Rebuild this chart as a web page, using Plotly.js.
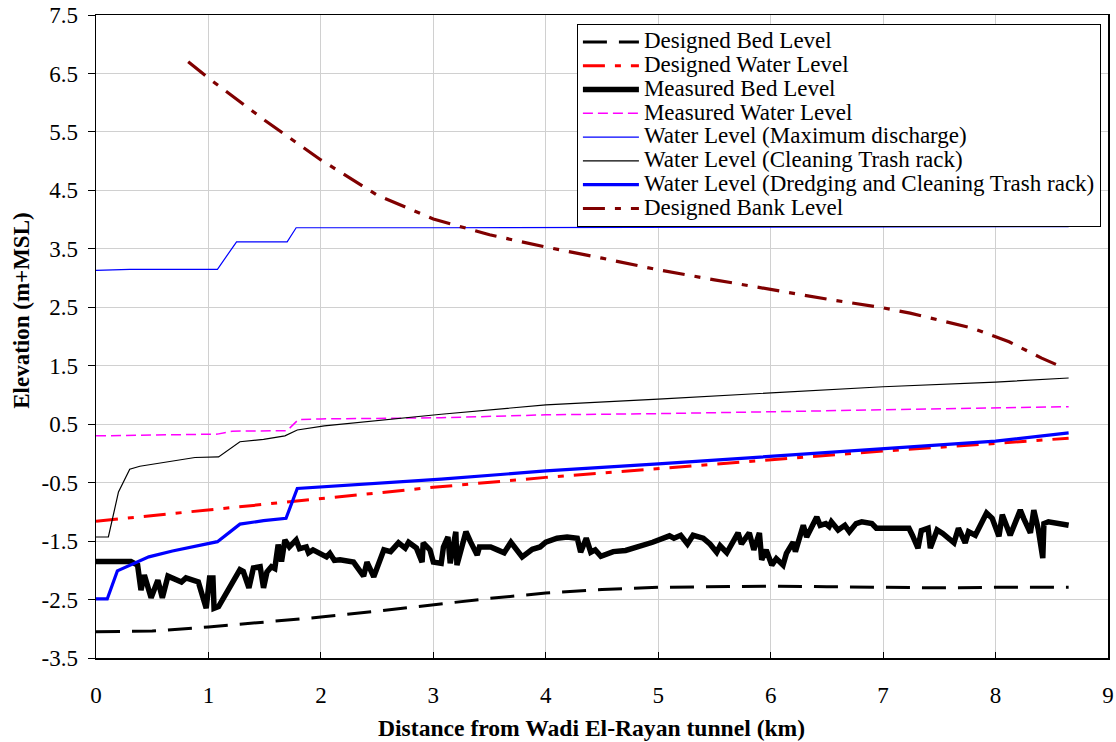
<!DOCTYPE html>
<html>
<head>
<meta charset="utf-8">
<script src="https://cdn.plot.ly/plotly-3.0.1.min.js"></script>
<style>html,body{margin:0;padding:0;background:#fff;}#chart{width:1116px;height:742px;}</style>
</head>
<body>
<div id="chart"></div>
<script>
// Designed Bed Level
const dbX = [0, 0.5, 1.0, 1.5, 2.0, 2.5, 3.0, 3.5, 4.0, 4.5, 5.0, 5.5, 6.0, 6.5, 7.0, 7.5, 8.0, 8.65];
const dbY = [-3.05, -3.04, -2.97, -2.89, -2.80, -2.70, -2.59, -2.48, -2.39, -2.33, -2.29, -2.28, -2.27, -2.28, -2.29, -2.30, -2.29, -2.29];
// Designed Water Level
const dwX = [0, 1, 2, 3, 4, 5, 6, 7, 8, 8.65];
const dwY = [-1.16, -0.97, -0.77, -0.58, -0.41, -0.26, -0.10, 0.04, 0.17, 0.26];
// Measured Bed Level
const mbX = [0, 0.31, 0.37, 0.40, 0.43, 0.49, 0.55, 0.59, 0.64, 0.71, 0.76, 0.80, 0.88, 0.91, 0.98, 1.01, 1.04, 1.05, 1.09, 1.16, 1.22, 1.28, 1.31, 1.36, 1.40, 1.46, 1.49, 1.52, 1.56, 1.59, 1.62, 1.65, 1.68, 1.72, 1.78, 1.81, 1.87, 1.89, 1.93, 2.05, 2.08, 2.12, 2.17,
  2.29, 2.38, 2.41, 2.47, 2.56, 2.62, 2.69, 2.75, 2.78, 2.85, 2.90, 2.91, 2.97, 3.00, 3.07, 3.09, 3.13, 3.15, 3.20, 3.21, 3.29, 3.33, 3.39, 3.41, 3.51, 3.57, 3.63, 3.69, 3.72, 3.79, 3.88, 3.95, 4.00, 4.10, 4.19, 4.28, 4.31, 4.36, 4.40,
  4.44, 4.49, 4.60, 4.71, 4.83, 4.95, 5.10, 5.14, 5.20, 5.26, 5.31, 5.40, 5.46, 5.52, 5.55, 5.61, 5.71, 5.74, 5.81, 5.85, 5.90, 5.92, 5.96, 6.01, 6.05, 6.11, 6.14, 6.20, 6.22, 6.26, 6.29, 6.32, 6.41, 6.44, 6.49, 6.52,
  6.54, 6.60, 6.66, 6.70, 6.76, 6.81, 6.90, 6.94, 7.01, 7.23, 7.26, 7.31, 7.34, 7.40, 7.42, 7.48, 7.53, 7.63, 7.67, 7.73, 7.76, 7.82, 7.92, 7.97, 8.03, 8.06, 8.13, 8.22, 8.25, 8.31, 8.34, 8.38, 8.42, 8.43, 8.47, 8.65];
const mbY = [-1.85, -1.85, -1.91, -2.34, -2.08, -2.47, -2.17, -2.47, -2.10, -2.17, -2.20, -2.13, -2.17, -2.20, -2.65, -2.13, -2.13, -2.65, -2.62, -2.37, -2.17, -1.99, -2.02, -2.30, -1.96, -1.94, -2.30, -2.03, -1.94, -1.97, -1.56, -1.85, -1.48, -1.60, -1.48, -1.63, -1.60, -1.70, -1.65, -1.77, -1.71, -1.83, -1.82,
  -1.86, -2.10, -1.86, -2.11, -1.65, -1.68, -1.53, -1.62, -1.52, -1.62, -1.86, -1.53, -1.65, -1.86, -1.88, -1.60, -1.43, -1.88, -1.34, -1.91, -1.34, -1.51, -1.74, -1.60, -1.60, -1.65, -1.70, -1.52, -1.60, -1.77, -1.64, -1.60, -1.52, -1.45, -1.43, -1.45, -1.69, -1.45, -1.69,
  -1.65, -1.76, -1.68, -1.66, -1.60, -1.52, -1.41, -1.45, -1.40, -1.55, -1.40, -1.45, -1.55, -1.69, -1.58, -1.70, -1.36, -1.55, -1.36, -1.65, -1.36, -1.82, -1.65, -1.91, -1.80, -1.91, -1.71, -1.52, -1.68, -1.43, -1.23, -1.43, -1.09, -1.23, -1.20, -1.25,
  -1.17, -1.31, -1.23, -1.34, -1.20, -1.17, -1.20, -1.28, -1.28, -1.28, -1.40, -1.62, -1.32, -1.28, -1.62, -1.31, -1.37, -1.53, -1.28, -1.53, -1.34, -1.40, -1.02, -1.11, -1.42, -1.05, -1.40, -0.97, -1.11, -1.36, -0.97, -1.30, -1.79, -1.20, -1.17, -1.23];
// Measured Water Level
const mwX = [0, 0.5, 1.08, 1.21, 1.70, 1.80, 2.0, 3.07, 4, 5, 6, 7, 8, 8.65];
const mwY = [0.30, 0.31, 0.33, 0.38, 0.39, 0.58, 0.59, 0.61, 0.66, 0.68, 0.71, 0.74, 0.78, 0.80];
// Water Level (Maximum discharge)
const wmX = [0, 0.30, 1.08, 1.25, 1.70, 1.78, 3, 5, 7, 8.65];
const wmY = [3.13, 3.15, 3.15, 3.62, 3.62, 3.86, 3.86, 3.87, 3.87, 3.88];
// Water Level (Cleaning Trash rack)
const wcX = [0, 0.11, 0.20, 0.30, 0.39, 0.88, 1.09, 1.28, 1.49, 1.68, 1.79, 2.03, 3.07, 4, 5, 6, 7, 8, 8.65];
const wcY = [-1.43, -1.43, -0.66, -0.27, -0.22, -0.07, -0.06, 0.20, 0.24, 0.30, 0.40, 0.47, 0.67, 0.83, 0.93, 1.03, 1.14, 1.22, 1.29];
// Water Level (Dredging and Cleaning Trash rack)
const wdX = [0, 0.10, 0.19, 0.33, 0.47, 0.68, 0.89, 1.08, 1.28, 1.49, 1.69, 1.79, 3.07, 4, 5, 6, 7, 8, 8.65];
const wdY = [-2.49, -2.49, -2.01, -1.89, -1.77, -1.67, -1.58, -1.51, -1.21, -1.15, -1.11, -0.60, -0.44, -0.30, -0.18, -0.05, 0.07, 0.21, 0.35];
// Designed Bank Level
const bkX = [0.82, 1.0, 1.5, 2.0, 2.5, 3.0, 3.5, 4.0, 4.5, 5.0, 5.5, 6.0, 6.5, 7.0, 7.24, 7.8, 8.12, 8.41, 8.6];
const bkY = [6.70, 6.42, 5.70, 5.02, 4.42, 4.01, 3.74, 3.53, 3.34, 3.14, 2.97, 2.80, 2.64, 2.49, 2.40, 2.14, 1.91, 1.63, 1.47];

// Tick labels
const yTickVals = [-3.5, -2.5, -1.5, -0.5, 0.5, 1.5, 2.5, 3.5, 4.5, 5.5, 6.5, 7.5];
const yTickText = ['-3.5', '-2.5', '-1.5', '-0.5', '0.5', '1.5', '2.5', '3.5', '4.5', '5.5', '6.5', '7.5'];
const xTickVals = [0, 1, 2, 3, 4, 5, 6, 7, 8, 9];
const xTickText = ['0', '1', '2', '3', '4', '5', '6', '7', '8', '9'];

const names = ['Designed Bed Level', 'Designed Water Level', 'Measured Bed Level', 'Measured Water Level',
  'Water Level (Maximum discharge)', 'Water Level (Cleaning Trash rack)',
  'Water Level (Dredging and Cleaning Trash rack)', 'Designed Bank Level'];
const xTitle = 'Distance from Wadi El-Rayan tunnel (km)';
const yTitle = 'Elevation (m+MSL)';
const lg = n => '<span style="font-size:23px">' + n + '</span>';

const traces = [
  {x: dbX, y: dbY, name: lg(names[0]), mode: 'lines', line: {color: '#000000', width: 3, dash: '24px,12px'}},
  {x: dwX, y: dwY, name: lg(names[1]), mode: 'lines', line: {color: '#ff0000', width: 3, dash: '22px,10px,6px,10px'}},
  {x: mbX, y: mbY, name: lg(names[2]), mode: 'lines', line: {color: '#000000', width: 5.5}},
  {x: mwX, y: mwY, name: lg(names[3]), mode: 'lines', line: {color: '#ff00ff', width: 1.5, dash: '10px,5px'}},
  {x: wmX, y: wmY, name: lg(names[4]), mode: 'lines', line: {color: '#0000ff', width: 1.2}},
  {x: wcX, y: wcY, name: lg(names[5]), mode: 'lines', line: {color: '#000000', width: 1.2}},
  {x: wdX, y: wdY, name: lg(names[6]), mode: 'lines', line: {color: '#0000ff', width: 3.2}},
  {x: bkX, y: bkY, name: lg(names[7]), mode: 'lines', line: {color: '#800000', width: 3.2, dash: '22px,10px,6px,10px'}}
];

const family = '"Liberation Serif", "Times New Roman", serif';
const font = {family: family, size: 23, color: '#000'};

const layout = {
  width: 1116, height: 742,
  margin: {l: 96, r: 8, t: 15, b: 84},
  paper_bgcolor: '#fff', plot_bgcolor: '#fff',
  font: font,
  showlegend: true,
  legend: {x: 0.993, y: 0.986, xanchor: 'right', yanchor: 'top', bgcolor: '#fff',
    bordercolor: '#000', borderwidth: 1, font: {family: family, size: 16, color: '#000'},
    itemwidth: 56, tracegroupgap: 0},
  xaxis: {range: [0, 9], tickmode: 'array', tickvals: xTickVals, ticktext: xTickText,
    showgrid: true, gridcolor: '#d0d0d0', gridwidth: 1,
    showline: true, linecolor: '#000', linewidth: 1.5, mirror: true, zeroline: false,
    ticks: 'inside', ticklen: 6, tickcolor: '#000', ticklabelstandoff: 16, tickfont: font},
  yaxis: {range: [-3.5, 7.5], tickmode: 'array', tickvals: yTickVals, ticktext: yTickText,
    showgrid: true, gridcolor: '#d0d0d0', gridwidth: 1,
    showline: true, linecolor: '#000', linewidth: 1.5, mirror: true, zeroline: false,
    ticks: 'outside', ticklen: 7, tickcolor: '#000', ticklabelstandoff: 5, tickfont: font},
  annotations: [
    {xref: 'paper', yref: 'paper', x: 0.490, y: -0.109, xanchor: 'center', yanchor: 'middle',
     text: '<b>' + xTitle + '</b>', showarrow: false, font: {family: family, size: 23.6, color: '#000'}},
    {xref: 'paper', yref: 'paper', x: -0.0731, y: 0.540, xanchor: 'center', yanchor: 'middle', textangle: -90,
     text: '<b>' + yTitle + '</b>', showarrow: false, font: {family: family, size: 23, color: '#000'}}
  ]
};

Plotly.newPlot('chart', traces, layout, {displayModeBar: false, staticPlot: true});
</script>
</body>
</html>
